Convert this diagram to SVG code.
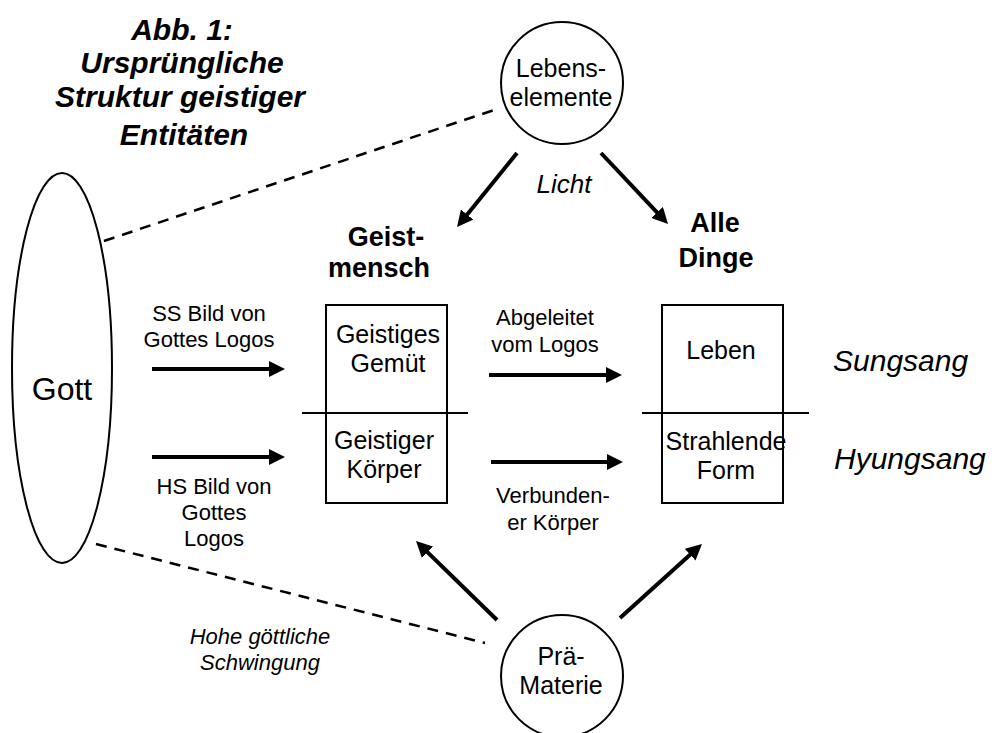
<svg xmlns="http://www.w3.org/2000/svg" width="994" height="733" viewBox="0 0 994 733">
<style>
text{font-family:"Liberation Sans",Arial,sans-serif;fill:#000}
.t{font-size:22px;text-anchor:middle}
.b{font-size:25px;text-anchor:middle}
.h{font-size:27px;font-weight:bold;text-anchor:middle}
.i{font-style:italic}
.shape{fill:#fff;stroke:#000;stroke-width:2}
.div{stroke:#000;stroke-width:2}
.arr{stroke:#000;stroke-width:4;fill:none;marker-end:url(#ah)}
.dash{stroke:#000;stroke-width:2.5;stroke-dasharray:11 8;fill:none}
</style>
<defs>
<marker id="ah" viewBox="0 0 16 16" markerWidth="16" markerHeight="16" markerUnits="userSpaceOnUse" refX="4" refY="8" orient="auto">
<path d="M0,0 L16,8 L0,16 z" fill="#000"/>
</marker>
</defs>
<rect width="994" height="733" fill="#fff"/>

<g id="title">
<text x="182" y="40" style="font-size:30px;font-weight:bold;font-style:italic;text-anchor:middle">Abb. 1:</text>
<text x="182" y="73" style="font-size:30px;font-weight:bold;font-style:italic;text-anchor:middle">Ursprüngliche</text>
<text x="180" y="107" style="font-size:30px;font-weight:bold;font-style:italic;text-anchor:middle">Struktur geistiger</text>
<text x="184" y="145" style="font-size:30px;font-weight:bold;font-style:italic;text-anchor:middle">Entitäten</text>
</g>

<g id="connectors">
<line class="dash" x1="104" y1="241" x2="494" y2="110"/>
<line class="dash" x1="96" y1="544" x2="485" y2="643"/>
<line class="arr" x1="517" y1="153" x2="464.6" y2="217.7"/>
<line class="arr" x1="601" y1="153" x2="659.8" y2="215.3"/>
<line class="arr" x1="152" y1="369" x2="273" y2="369"/>
<line class="arr" x1="152" y1="457" x2="273" y2="457"/>
<line class="arr" x1="489" y1="375" x2="610" y2="375"/>
<line class="arr" x1="491" y1="462" x2="611" y2="462"/>
<line class="arr" x1="497" y1="620" x2="424.6" y2="549.4"/>
<line class="arr" x1="620" y1="618" x2="693.1" y2="552"/>
</g>

<g id="gott">
<ellipse class="shape" cx="62" cy="368" rx="50" ry="195"/>
<text x="62" y="400" style="font-size:32px;text-anchor:middle">Gott</text>
</g>

<g id="lebenselemente">
<circle class="shape" cx="562" cy="83" r="61"/>
<text class="b" x="561" y="77">Lebens-</text>
<text class="b" x="561" y="106">elemente</text>
</g>

<g id="licht-label">
<text x="564" y="193" class="i" style="font-size:26px;text-anchor:middle">Licht</text>
</g>

<g id="geistmensch-label">
<text class="h" x="386" y="246">Geist-</text>
<text class="h" x="379" y="277">mensch</text>
</g>

<g id="alle-dinge-label">
<text class="h" x="715" y="232">Alle</text>
<text class="h" x="716" y="267">Dinge</text>
</g>

<g id="geistmensch">
<rect class="shape" x="326" y="305" width="121" height="198"/>
<line class="div" x1="302" y1="413" x2="468" y2="413"/>
<text class="b" x="388" y="343">Geistiges</text>
<text class="b" x="388" y="372">Gemüt</text>
<text class="b" x="384" y="449">Geistiger</text>
<text class="b" x="384" y="478">Körper</text>
</g>

<g id="alle-dinge">
<rect class="shape" x="662" y="305" width="121" height="198"/>
<line class="div" x1="642" y1="413" x2="809" y2="413"/>
<text class="b" x="721" y="359">Leben</text>
<text class="b" x="726" y="450">Strahlende</text>
<text class="b" x="726" y="479">Form</text>
</g>

<g id="labels">
<text class="t" x="209" y="321">SS Bild von</text>
<text class="t" x="209" y="347">Gottes Logos</text>
<text class="t" x="214" y="494">HS Bild von</text>
<text class="t" x="214" y="520">Gottes</text>
<text class="t" x="214" y="546">Logos</text>
<text class="t" x="545" y="325">Abgeleitet</text>
<text class="t" x="545" y="352">vom Logos</text>
<text class="t" x="553" y="503">Verbunden-</text>
<text class="t" x="553" y="530">er Körper</text>
<text class="t i" x="260" y="644">Hohe göttliche</text>
<text class="t i" x="260" y="670">Schwingung</text>
<text class="i" x="833" y="371" style="font-size:30px">Sungsang</text>
<text class="i" x="834" y="469" style="font-size:30px">Hyungsang</text>
</g>

<g id="praematerie">
<circle class="shape" cx="562" cy="676" r="61"/>
<text class="b" x="561" y="665">Prä-</text>
<text class="b" x="561" y="694">Materie</text>
</g>
</svg>
